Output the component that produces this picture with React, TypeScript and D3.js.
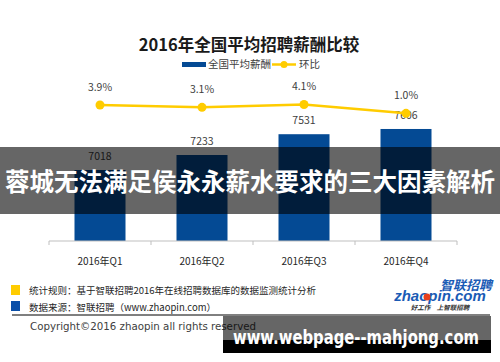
import React from 'react'
import { scaleBand, scaleLinear, line } from 'd3'

const quarters = ['2016年Q1', '2016年Q2', '2016年Q3', '2016年Q4']
const salary = [7018, 7233, 7531, 7606]
const growth = [3.9, 3.1, 4.1, 1.0]
const growthLabels = ['3.9%', '3.1%', '4.1%', '1.0%']

const title = '2016年全国平均招聘薪酬比较'
const legendNames = ['全国平均薪酬', '环比']
const noteLines = ['统计规则：基于智联招聘2016年在线招聘数据库的数据监测统计分析', '数据来源：智联招聘（www.zhaopin.com）']
const banner = '蓉城无法满足侯永永薪水要求的三大因素解析'
const watermark = 'www.webpage--mahjong.com'

const W = 500
const H = 362
const font = '"Noto Sans CJK SC", "Noto Sans", sans-serif'
const blue = '#044A94'
const gold = '#FFCC00'

const App = () => {
    const x = scaleBand().domain(quarters).range([49, 457]).paddingInner(0.5).paddingOuter(0.25)
    const step = x.step()
    const ySal = scaleLinear().domain([6000, 8000]).range([241, 101.5])
    const yPct = scaleLinear().domain([0, 5]).range([116.2, 101.9])

    const pts = quarters.map((q, i) => [x(q)! + x.bandwidth() / 2, yPct(growth[i])] as [number, number])
    const path = line()(pts)

    const bars = quarters.map((q, i) => (
        <g key={q}>
            <rect x={x(q)} y={ySal(salary[i])} width={x.bandwidth()} height={241 - ySal(salary[i])} fill={blue} />
            <text x={x(q)! + x.bandwidth() / 2} y={ySal(salary[i]) - 10} textAnchor='middle' fontSize={10.5} fill='#404040'>
                {salary[i]}
            </text>
        </g>
    ))

    const ticks = [0, 1, 2, 3, 4].map(i => (
        <line key={i} x1={49 + i * step} x2={49 + i * step} y1={241} y2={245} stroke='#bfbfbf' />
    ))

    const tickLabels = quarters.map(q => (
        <text key={q} x={x(q)! + x.bandwidth() / 2} y={265} textAnchor='middle' fontSize={10} fill='#262626'>{q}</text>
    ))

    return (
        <svg width={W} height={H} viewBox={`0 0 ${W} ${H}`} style={{ position: 'absolute', left: 0, top: 0 }} fontFamily={font}>
            <rect width={W} height={H} fill='#fff' />
            <text x={249} y={51} textAnchor='middle' fontSize={16.5} fontWeight='bold' fill='#1a1a1a'>{title}</text>

            <rect x={182} y={62} width={24} height={5} fill={blue} />
            <text x={208} y={68} fontSize={10.5} fill='#404040'>{legendNames[0]}</text>
            <line x1={272} x2={296} y1={64.5} y2={64.5} stroke={gold} strokeWidth={2.5} />
            <circle cx={284} cy={64.5} r={3.5} fill={gold} />
            <text x={299} y={68} fontSize={10.5} fill='#404040'>{legendNames[1]}</text>

            {bars}
            <line x1={49} x2={457} y1={241} y2={241} stroke='#bfbfbf' />
            {ticks}
            {tickLabels}

            <path d={path!} fill='none' stroke={gold} strokeWidth={2.5} />
            {pts.map((p, i) => (
                <g key={i}>
                    <circle cx={p[0]} cy={p[1]} r={4.5} fill={gold} />
                    <text x={p[0]} y={p[1] - 14} textAnchor='middle' fontSize={10.5} fill='#404040'>{growthLabels[i]}</text>
                </g>
            ))}

            <rect x={0} y={147} width={W} height={67} fill='rgba(0,0,0,0.6)' />
            <text x={250} y={190.5} textAnchor='middle' fontSize={24.5} fontWeight='bold' fill='#fff'>{banner}</text>

            <rect x={11} y={285} width={9} height={10} fill={gold} />
            <text x={29} y={294} fontSize={9.5} fill='#262626'>{noteLines[0]}</text>
            <rect x={11} y={301} width={9} height={10} fill='#0a4fa8' />
            <text x={29} y={311} fontSize={9.5} fill='#262626'>{noteLines[1]}</text>

            <text x={466} y={289.5} textAnchor='middle' fontSize={13} fontWeight='bold' fontStyle='italic' fill='#1a5bb5'>智联招聘</text>
            <text x={440} y={301} textAnchor='middle' fontSize={15} fontWeight='bold' fontStyle='italic' fill='#1a5bb5' fontFamily='"Liberation Sans", sans-serif'>zhaopin.com</text>
            <circle cx={427} cy={297} r={3.5} fill='#e8401c' />
            <text x={440} y={310} textAnchor='middle' fontSize={6.5} fontStyle='italic' fontWeight='bold' fill='#333'>好工作　上智联招聘</text>

            <line x1={12} x2={490} y1={315} y2={315} stroke='#000' strokeWidth={1} />
            <text x={30} y={330} fontSize={10.5} fill='#404040' fontFamily='"DejaVu Sans", sans-serif' textLength={226} lengthAdjust='spacingAndGlyphs'>Copyright©2016 zhaopin all rights reserved</text>

            <rect x={223} y={316} width={268} height={24} fill='rgba(0,0,0,0.6)' />
            <rect x={223} y={340} width={268} height={13} fill='#000' />
            <text x={356} y={344} textAnchor='middle' fontSize={19} fontWeight='bold' fill='#fff' fontFamily='"DejaVu Sans", sans-serif' textLength={246} lengthAdjust='spacingAndGlyphs'>{watermark}</text>
        </svg>
    )
}

export default App
